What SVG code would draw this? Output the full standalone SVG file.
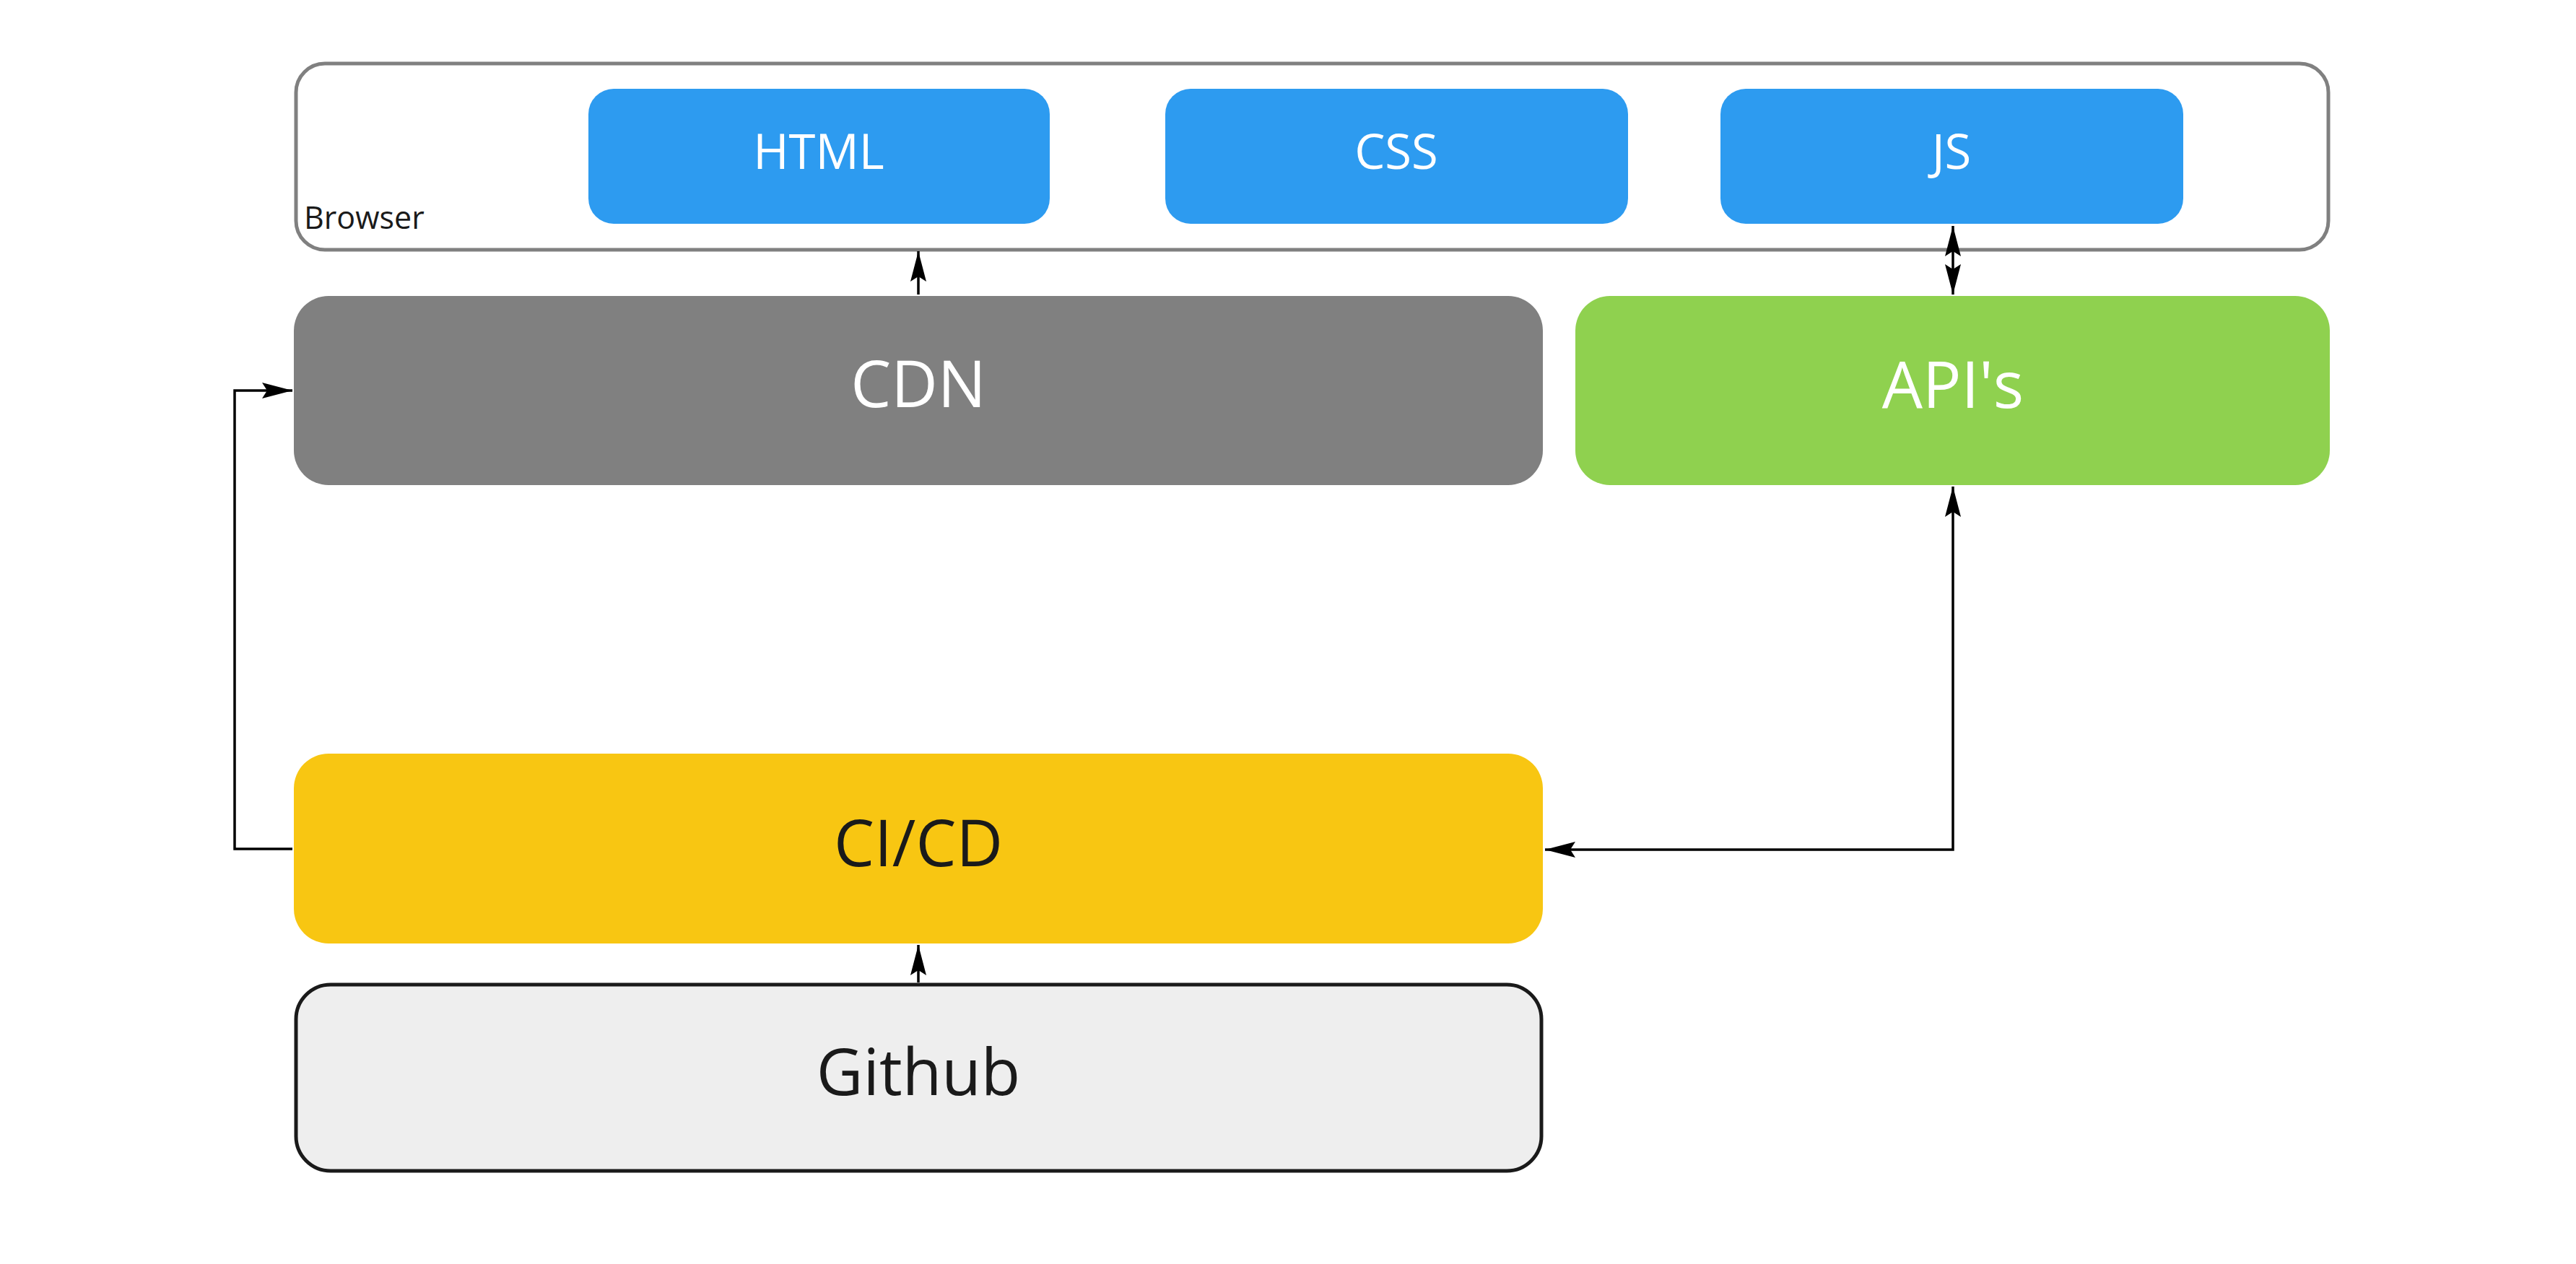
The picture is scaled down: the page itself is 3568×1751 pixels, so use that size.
<svg xmlns="http://www.w3.org/2000/svg" width="3568" height="1751" viewBox="0 0 3568 1751">
<style>
.lbl{font-family:"Open Sans","Noto Sans","Liberation Sans",sans-serif;text-anchor:middle}
.w{fill:#ffffff}
.d{fill:#1a1a1a}
.big{font-size:89px}
.sm{font-size:67px}
.conn{fill:none;stroke:#000000;stroke-width:3.5}
</style>
<defs>
<marker id="ah" markerUnits="userSpaceOnUse" markerWidth="44" markerHeight="26" refX="42" refY="13" orient="auto-start-reverse" viewBox="0 0 44 26">
<path d="M0,2 L42,13 L0,24 L7,13 Z" fill="#000000"/>
</marker>
</defs>
<rect width="3568" height="1751" fill="#ffffff"/>
<g id="browser">
<rect x="410" y="88" width="2815" height="258" rx="40" ry="40" fill="#ffffff" stroke="#808080" stroke-width="5"/>
<text x="421" y="317" font-family="Open Sans, Noto Sans, Liberation Sans, sans-serif" font-size="43" fill="#1a1a1a">Browser</text>
</g>
<g id="html">
<rect x="815" y="123" width="639" height="187" rx="35" ry="35" fill="#2d9bf0"/>
<text class="lbl w sm" x="1134" y="234">HTML</text>
</g>
<g id="css">
<rect x="1614" y="123" width="641" height="187" rx="35" ry="35" fill="#2d9bf0"/>
<text class="lbl w sm" x="1934" y="234">CSS</text>
</g>
<g id="js">
<rect x="2383" y="123" width="641" height="187" rx="35" ry="35" fill="#2d9bf0"/>
<text class="lbl w sm" x="2703" y="234">JS</text>
</g>
<g id="cdn">
<rect x="407" y="410" width="1730" height="262" rx="48" ry="48" fill="#808080"/>
<text class="lbl w big" x="1272" y="564">CDN</text>
</g>
<g id="apis">
<rect x="2182" y="410" width="1045" height="262" rx="48" ry="48" fill="#8fd14f"/>
<text class="lbl w big" x="2705" y="565">API's</text>
</g>
<g id="cicd">
<rect x="407" y="1044" width="1730" height="263" rx="48" ry="48" fill="#f8c612"/>
<text class="lbl d big" x="1272" y="1200">CI/CD</text>
</g>
<g id="github">
<rect x="410" y="1364" width="1725" height="258" rx="48" ry="48" fill="#eeeeee" stroke="#1a1a1a" stroke-width="5"/>
<text class="lbl d big" x="1272" y="1517">Github</text>
</g>
<g id="connectors">
<path class="conn" d="M1272,408 V348" marker-end="url(#ah)"/>
<path class="conn" d="M2705,313 V408" marker-start="url(#ah)" marker-end="url(#ah)"/>
<path class="conn" d="M405,1176 H325 V541 H405" marker-end="url(#ah)"/>
<path class="conn" d="M2140,1177 H2705 V674" marker-start="url(#ah)" marker-end="url(#ah)"/>
<path class="conn" d="M1272,1361 V1309" marker-end="url(#ah)"/>
</g>
</svg>
